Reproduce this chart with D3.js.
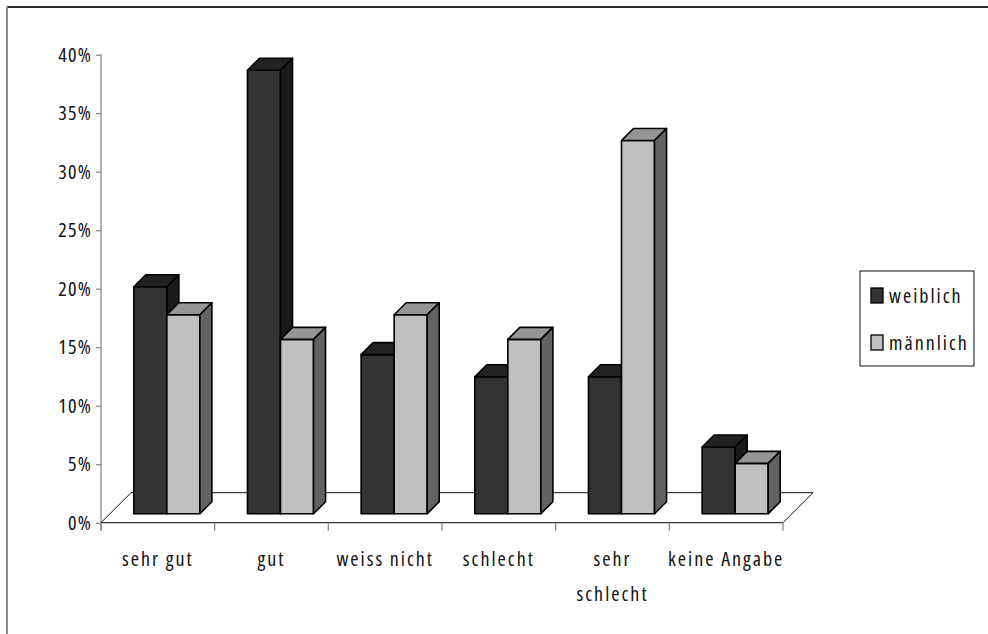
<!DOCTYPE html>
<html>
<head>
<meta charset="utf-8">
<script src="https://cdn.jsdelivr.net/npm/d3@7"></script>
<style>
  html, body { margin: 0; padding: 0; background: #fff; }
  svg { display: block; }
  text { font-family: "Open Sans", sans-serif; font-stretch: condensed; fill: #111; }
</style>
</head>
<body>
<svg id="chart" width="988" height="634"></svg>
<script>
// Ratings by gender, in percent
const categories = ["sehr gut", "gut", "weiss nicht", "schlecht", "sehr schlecht", "keine Angabe"];
const categoryLabels = [["sehr gut"], ["gut"], ["weiss nicht"], ["schlecht"], ["sehr", "schlecht"], ["keine Angabe"]];
const series = ["weiblich", "männlich"];
const weiblich = [19.4, 37.9, 13.6, 11.7, 11.7, 5.7];
const maennlich = [17.0, 14.9, 17.0, 14.9, 31.9, 4.3];
const yTicks = [0, 5, 10, 15, 20, 25, 30, 35, 40];

const values = [weiblich, maennlich];

// Face shading per series: front, top, side
const faces = [
  { front: "#323333", top: "#222222", side: "#1a1a1a" },
  { front: "#c0c0c0", top: "#969696", side: "#626262" }
];

const svg = d3.select("#chart");

// Plot frame (front plane) and 3D depth offsets
const left = 101, right = 783, base = 522.7, topY = 54.7;
const floorDepth = 30;        // depth of the floor
const barFront = 9;           // depth of the bar front faces
const barDepth = 12;          // thickness of each bar

const x0 = d3.scaleBand().domain(categories).range([left, right]);
const x1 = d3.scaleBand().domain(series).range([0, x0.bandwidth()]).paddingOuter(0.72);
const y = d3.scaleLinear().domain([0, 40]).range([base, topY]);

// Outer frame lines
svg.append("line").attr("x1", 7).attr("y1", 7).attr("x2", 988).attr("y2", 7)
  .attr("stroke", "#2a2a2a").attr("stroke-width", 2);
svg.append("line").attr("x1", 7).attr("y1", 7).attr("x2", 7).attr("y2", 634)
  .attr("stroke", "#8a8a8a").attr("stroke-width", 2);

// Floor
const floor = svg.append("g");
floor.append("path")
  .attr("d", `M${left},${base} L${left + floorDepth},${base - floorDepth} L${right + floorDepth},${base - floorDepth} L${right},${base}`)
  .attr("fill", "none").attr("stroke", "#111").attr("stroke-width", 1);

// Value axis
const yAxis = svg.append("g").attr("transform", `translate(${left},0)`)
  .call(d3.axisLeft(y).tickValues(yTicks).tickSize(5).tickPadding(4).tickFormat(d => d + "%"));
yAxis.select(".domain").attr("stroke", "#8a8a8a").attr("stroke-width", 1.3)
  .attr("d", `M0,${topY}V${base + 8}`);
yAxis.selectAll(".tick line").attr("stroke", "#8a8a8a").attr("stroke-width", 1.3);
yAxis.selectAll(".tick text").attr("font-size", 20).attr("fill", "#111")
  .attr("font-family", null).attr("letter-spacing", 1.2);

// Category axis
const xAxis = svg.append("g").attr("transform", `translate(0,${base})`);
xAxis.append("line").attr("x1", left).attr("x2", right).attr("y1", 0).attr("y2", 0)
  .attr("stroke", "#333").attr("stroke-width", 1.3);
const boundaries = categories.map(c => x0(c)).concat([right]);
xAxis.selectAll("line.tick").data(boundaries).join("line").attr("class", "tick")
  .attr("x1", d => d).attr("x2", d => d).attr("y1", 0).attr("y2", 8)
  .attr("stroke", "#8a8a8a").attr("stroke-width", 1.3);

// Category labels, one tspan per line
xAxis.selectAll("text.cat").data(categories).join("text").attr("class", "cat")
  .attr("text-anchor", "middle").attr("font-size", 20).attr("letter-spacing", 2)
  .attr("y", 43.5)
  .each(function (d, i) {
    const cx = x0(d) + x0.bandwidth() / 2;
    d3.select(this).selectAll("tspan").data(categoryLabels[i]).join("tspan")
      .attr("x", cx).attr("dy", (w, j) => j === 0 ? 0 : 35).text(w => w);
  });

// Bars as extruded boxes
const bars = svg.append("g");
categories.forEach((c, ci) => {
  series.forEach((s, si) => {
    const v = values[si][ci];
    const xf = x0(c) + x1(s) + barFront;
    const w = x1.bandwidth();
    const yt = y(v) - barFront;
    const yb = y(0) - barFront;
    const d = barDepth;
    const g = bars.append("g").attr("stroke", "#000").attr("stroke-width", 1.6)
      .attr("stroke-linejoin", "round");
    g.append("rect").attr("x", xf).attr("y", yt).attr("width", w).attr("height", yb - yt)
      .attr("fill", faces[si].front);
    g.append("path")
      .attr("d", `M${xf},${yt} L${xf + d},${yt - d} L${xf + w + d},${yt - d} L${xf + w},${yt} Z`)
      .attr("fill", faces[si].top);
    g.append("path")
      .attr("d", `M${xf + w},${yt} L${xf + w + d},${yt - d} L${xf + w + d},${yb - d} L${xf + w},${yb} Z`)
      .attr("fill", faces[si].side);
  });
});

// Legend
const legend = svg.append("g").attr("transform", "translate(860,271)");
legend.append("rect").attr("x", 0).attr("y", 0).attr("width", 114).attr("height", 95)
  .attr("fill", "#fff").attr("stroke", "#111").attr("stroke-width", 1);
series.forEach((s, i) => {
  const row = legend.append("g").attr("transform", `translate(11,${17 + i * 47})`);
  row.append("rect").attr("x", 0).attr("y", 0).attr("width", 12).attr("height", 15)
    .attr("fill", faces[i].front).attr("stroke", "#000").attr("stroke-width", 1.3);
  row.append("text").attr("x", 18).attr("y", 15).attr("font-size", 20)
    .attr("letter-spacing", 2).text(s);
});
</script>
</body>
</html>
